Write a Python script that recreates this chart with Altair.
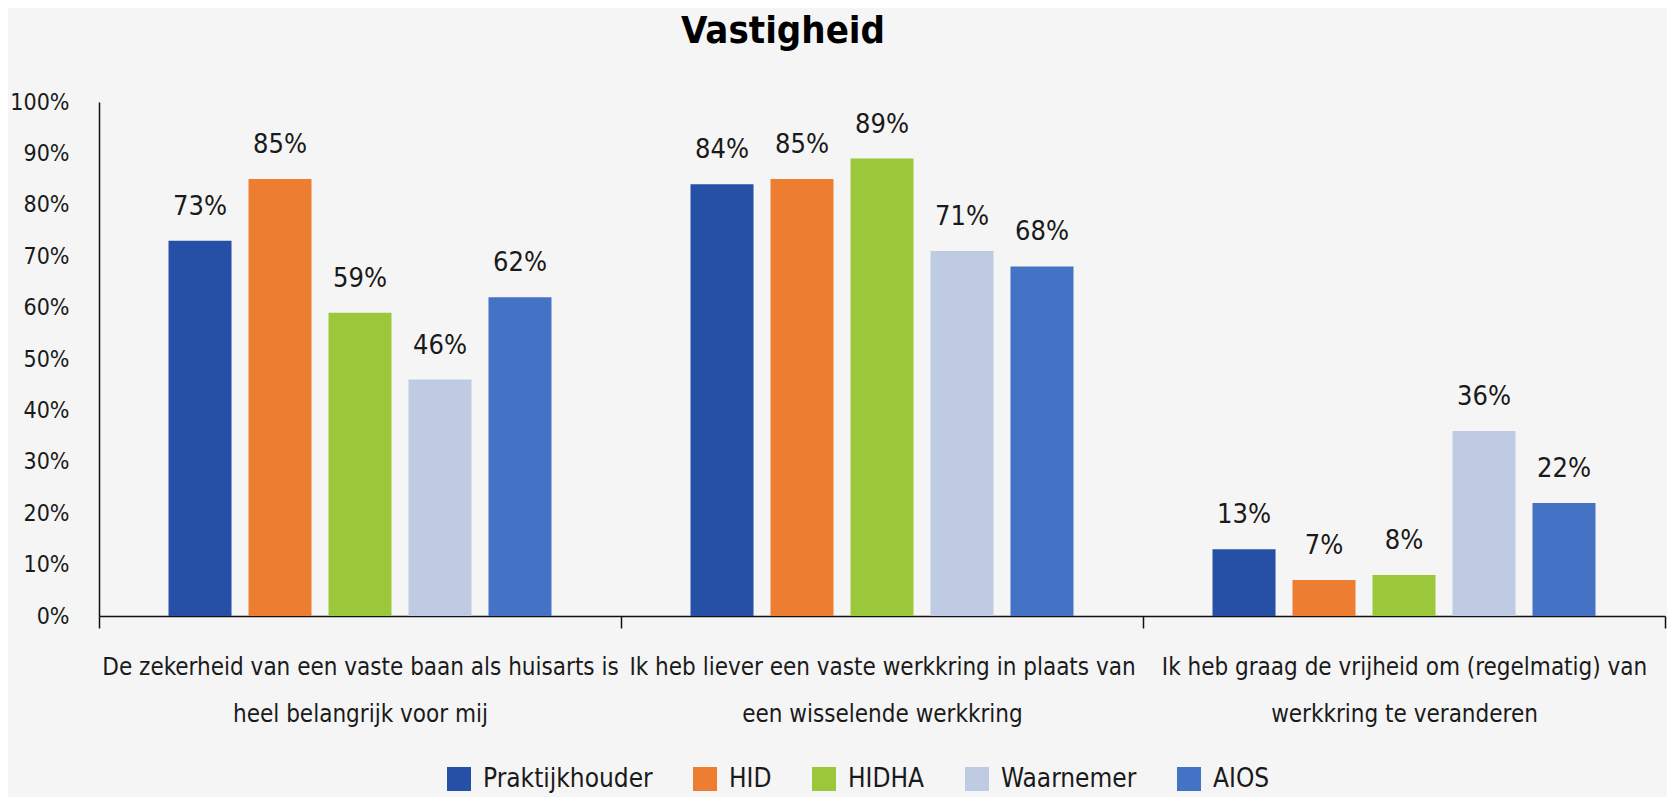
import altair as alt
import pandas as pd

FONT = "'DejaVu Sans Condensed', 'Liberation Sans Narrow', 'Open Sans'"

categories = [
    "De zekerheid van een vaste baan als huisarts is\nheel belangrijk voor mij",
    "Ik heb liever een vaste werkkring in plaats van\neen wisselende werkkring",
    "Ik heb graag de vrijheid om (regelmatig) van\nwerkkring te veranderen",
]
series = ["Praktijkhouder", "HID", "HIDHA", "Waarnemer", "AIOS"]
praktijkhouder = [0.73, 0.84, 0.13]
hid = [0.85, 0.85, 0.07]
hidha = [0.59, 0.89, 0.08]
waarnemer = [0.46, 0.71, 0.36]
aios = [0.62, 0.68, 0.22]
colors = ["#2550A6", "#ED7D31", "#9BC83B", "#BFCBE3", "#4472C4"]
y_ticks = [0, 0.1, 0.2, 0.3, 0.4, 0.5, 0.6, 0.7, 0.8, 0.9, 1.0]
title_text = ["Vastigheid"]

values_by_series = [praktijkhouder, hid, hidha, waarnemer, aios]
rows = []
for s, vals in zip(series, values_by_series):
    for c, v in zip(categories, vals):
        rows.append({"category": c, "series": s, "value": v})
df = pd.DataFrame(rows)

TEXT = "#1a1a1a"

base = alt.Chart(df).encode(
    x=alt.X(
        "category:N",
        sort=categories,
        scale=alt.Scale(paddingInner=0, paddingOuter=0),
        axis=alt.Axis(
            title=None,
            labelExpr="split(datum.label, '\\n')",
            labelAngle=0,
            labelFont=FONT,
            labelFontSize=24,
            labelLineHeight=47,
            labelBaseline="alphabetic",
            labelPadding=46,
            labelLimit=700,
            labelOverlap=False,
            labelColor=TEXT,
            tickSize=12,
            tickBand="extent",
            tickColor="#111111",
            tickWidth=1.5,
            domainColor="#111111",
            domainWidth=1.5,
        ),
    ),
    xOffset=alt.XOffset(
        "series:N",
        sort=series,
        scale=alt.Scale(paddingInner=0.2125, paddingOuter=0.869),
    ),
    y=alt.Y(
        "value:Q",
        scale=alt.Scale(domain=[0, 1], nice=False),
        axis=alt.Axis(
            title=None,
            format="%",
            values=y_ticks,
            ticks=False,
            grid=False,
            labelPadding=30,
            labelFont=FONT,
            labelFontSize=23,
            labelColor=TEXT,
            domainColor="#111111",
            domainWidth=1.5,
        ),
    ),
)

bars = base.mark_bar().encode(
    color=alt.Color(
        "series:N",
        sort=series,
        scale=alt.Scale(domain=series, range=colors),
        legend=alt.Legend(
            title=None,
            orient="none",
            legendX=347,
            legendY=664,
            direction="horizontal",
            columns=5,
            symbolType="square",
            symbolSize=576,
            symbolStrokeWidth=0,
            symbolOpacity=1,
            labelFont=FONT,
            labelFontSize=26,
            labelColor=TEXT,
            labelOffset=11,
            columnPadding=39,
            padding=0,
            labelLimit=400,
        ),
    )
)

labels = base.mark_text(
    baseline="alphabetic", dy=-26, fontSize=27, font=FONT, color=TEXT
).encode(text=alt.Text("value:Q", format=".0%"))

title = (
    alt.Chart(pd.DataFrame({"t": title_text}))
    .mark_text(
        font=FONT, fontSize=38, fontWeight="bold", baseline="alphabetic",
        align="center", color="#000000",
    )
    .encode(text="t:N", x=alt.value(684), y=alt.value(-59))
)

chart = (
    alt.layer(bars, labels, title)
    .properties(
        width=1566,
        height=514,
        autosize=alt.AutoSizeParams(type="none"),
        padding={"left": 91, "top": 94, "right": 2, "bottom": 181},
        background="#F5F5F5",
    )
    .configure_view(stroke=None)
)

chart.save("out.html", embed_options={"renderer": "svg", "actions": False})
